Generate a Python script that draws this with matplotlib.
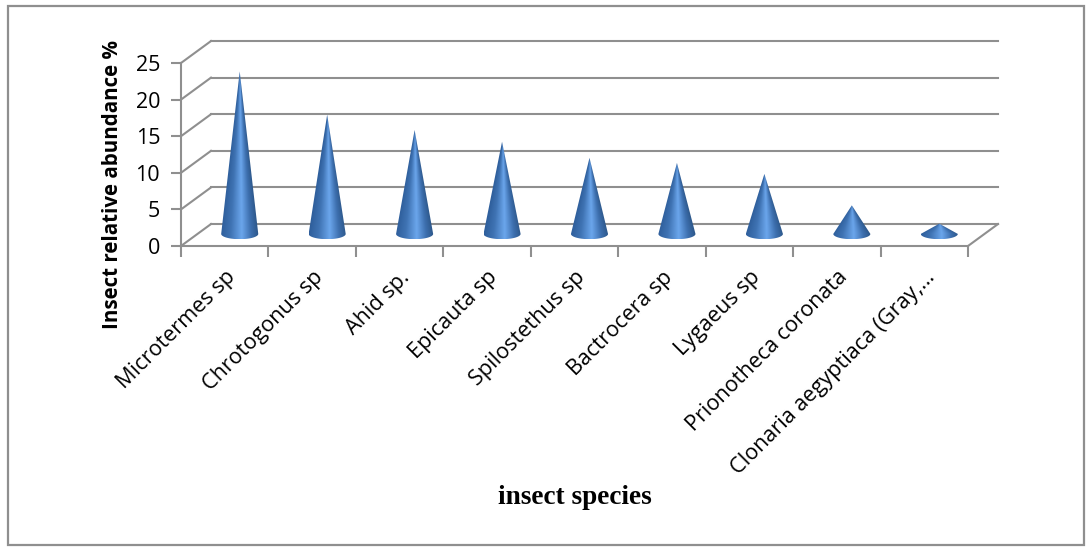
import matplotlib
matplotlib.use("Agg")
import matplotlib.pyplot as plt
import numpy as np
from matplotlib.colors import LinearSegmentedColormap
from matplotlib.patches import PathPatch, Rectangle
from matplotlib.path import Path

species = ["Microtermes sp", "Chrotogonus sp", "Ahid sp.", "Epicauta sp", "Spilostethus sp",
           "Bactrocera sp", "Lygaeus sp", "Prionotheca coronata", "Clonaria aegyptiaca (Gray,…"]
abundance = [22.2, 16.3, 14.2, 12.6, 10.4, 9.7, 8.2, 3.9, 1.4]
y_ticks = [0, 5, 10, 15, 20, 25]

W, H = 1092, 556
GREY = "#8f8f8f"
LW = 1.5
DEPTH_X, DEPTH_Y = 0.343, 3.0      # shear of the back wall, in data units
BASE_Y = 1.65                      # cone base centre above the floor front edge
HALF_W, HALF_H = 0.212, 0.72       # base ellipse radii

fig = plt.figure(figsize=(W / 100, H / 100), dpi=100, facecolor="white")
ax = fig.add_axes([181 / W, 1 - 246 / H, (968 - 181) / W, (246 - 63) / H])
ax.set_xlim(0, len(species))
ax.set_ylim(0, 25)
ax.patch.set_alpha(0)
for side in ("top", "right"):
    ax.spines[side].set_visible(False)
for side in ("left", "bottom"):
    ax.spines[side].set_color(GREY)
    ax.spines[side].set_linewidth(LW)

# Outer chart frame
fig.add_artist(Rectangle((8 / W, 1 - 545 / H), (1084 - 8) / W, (545 - 6) / H,
                         transform=fig.transFigure, fill=False, edgecolor=GREY, linewidth=1.6))

# Side wall, back wall and floor gridlines
n = len(species)
for v in y_ticks:
    ax.plot([0, DEPTH_X], [v, v + DEPTH_Y], color=GREY, lw=LW, clip_on=False, zorder=1)
    ax.plot([DEPTH_X, n + DEPTH_X], [v + DEPTH_Y] * 2, color=GREY, lw=LW, clip_on=False, zorder=1)
ax.plot([n, n + DEPTH_X], [0, DEPTH_Y], color=GREY, lw=LW, clip_on=False, zorder=1)

# Cones: shading follows the surface, so it narrows towards the apex
shade = LinearSegmentedColormap.from_list(
    "cone", [(0, "#2f5f9c"), (0.25, "#3f73b3"), (0.55, "#6ba6ec"), (0.8, "#3d6fae"), (1, "#2c5688")])
for i, value in enumerate(abundance):
    cx = i + 0.5 + DEPTH_X / 2
    tip = value + BASE_Y
    t = np.linspace(np.pi, 2 * np.pi, 40)
    xs = cx + HALF_W * np.cos(t)
    ys = BASE_Y + HALF_H * np.sin(t)
    verts = [(cx, tip)] + list(zip(xs, ys)) + [(cx, tip)]
    outline = PathPatch(Path(verts), transform=ax.transData, facecolor="none", edgecolor="none")
    ax.add_patch(outline)
    u = np.linspace(-1, 1, 128)
    h = np.linspace(tip, BASE_Y - HALF_H, 256)
    local = np.clip((tip - h) / value, 0.02, 1)[:, None]
    surface = np.clip(0.5 + 0.5 * u[None, :] / local, 0, 1)
    img = ax.imshow(surface, cmap=shade, vmin=0, vmax=1, aspect="auto", interpolation="bilinear",
                    zorder=3, extent=(cx - HALF_W, cx + HALF_W, BASE_Y - HALF_H, tip))
    img.set_clip_path(outline)
ax.set_xlim(0, n)
ax.set_ylim(0, 25)

# Axes ticks and labels
ax.set_yticks(y_ticks)
ax.tick_params(axis="y", length=7, width=LW, color=GREY, pad=8, labelsize=15.5,
               labelfontfamily="Open Sans")
ax.set_xticks(range(n + 1))
ax.set_xticklabels([])
ax.tick_params(axis="x", which="major", length=8, width=LW, color=GREY)
ax.set_xticks(np.arange(n) + 0.5, minor=True)
ax.set_xticklabels(species, minor=True, rotation=45, ha="right", va="top", rotation_mode="anchor",
                   fontsize=15.6, family="Open Sans")
ax.tick_params(axis="x", which="minor", length=0, pad=15)

fig.text(113 / W, 1 - 185 / H, "Insect relative abundance %", rotation=90, ha="center", va="center",
         fontsize=14.8, fontweight="bold", family="Open Sans")
fig.text(574.5 / W, 1 - 497 / H, "insect species", ha="center", va="center",
         fontsize=19.6, fontweight="bold", family="Liberation Serif")

fig.savefig("out.png", dpi=100, facecolor="white")
